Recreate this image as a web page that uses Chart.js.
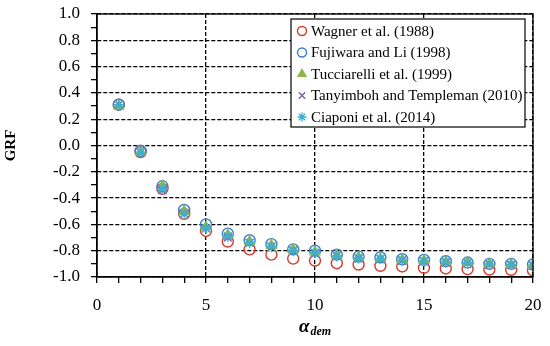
<!DOCTYPE html>
<html>
<head>
<meta charset="utf-8">
<script src="https://cdn.jsdelivr.net/npm/chart.js@4"></script>
<style>
  body { margin: 0; background: #fff; }
  #graphique { display: block; }
</style>
</head>
<body>
<canvas id="graphique" width="550" height="346"></canvas>
<script>
const alphaDem = [1, 2, 3, 4, 5, 6, 7, 8, 9, 10, 11, 12, 13, 14, 15, 16, 17, 18, 19, 20];
const wagner = [0.31, -0.05, -0.33, -0.52, -0.65, -0.73, -0.79, -0.83, -0.86, -0.875, -0.895, -0.905, -0.915, -0.92, -0.93, -0.935, -0.94, -0.943, -0.945, -0.95];
const fujiwara = [0.31, -0.04, -0.31, -0.49, -0.60, -0.67, -0.72, -0.75, -0.79, -0.80, -0.83, -0.845, -0.85, -0.865, -0.87, -0.88, -0.89, -0.90, -0.90, -0.905];
const tucciarelli = [0.30, -0.05, -0.31, -0.50, -0.62, -0.68, -0.73, -0.76, -0.79, -0.81, -0.835, -0.85, -0.86, -0.87, -0.875, -0.885, -0.89, -0.90, -0.905, -0.91];
const tanyimboh = [0.31, -0.05, -0.34, -0.52, -0.63, -0.70, -0.74, -0.77, -0.80, -0.82, -0.84, -0.86, -0.865, -0.875, -0.88, -0.89, -0.895, -0.905, -0.91, -0.915];
const ciaponi = [0.31, -0.05, -0.33, -0.52, -0.63, -0.69, -0.74, -0.77, -0.80, -0.815, -0.84, -0.855, -0.86, -0.87, -0.88, -0.885, -0.89, -0.90, -0.905, -0.91];

const seriesLabels = ["Wagner et al. (1988)", "Fujiwara and Li (1998)", "Tucciarelli et al. (1999)", "Tanyimboh and Templeman (2010)", "Ciaponi et al. (2014)"];
const xTickLabels = ["0", "5", "10", "15", "20"];

const serif = "'Liberation Serif', 'DejaVu Serif', serif";

function points(values){
    return alphaDem.map((x, i) => ({x: x, y: values[i]}));
}

const styles = [
    {pointStyle: "circle", color: "#D23C2C", fill: "rgba(0,0,0,0)"},
    {pointStyle: "circle", color: "#3A7CCB", fill: "rgba(0,0,0,0)"},
    {pointStyle: "triangle", color: "#8DB749", fill: "#8DB749"},
    {pointStyle: "crossRot", color: "#7E5FA8", fill: "#7E5FA8"},
    {pointStyle: "star", color: "#3CB2CF", fill: "#3CB2CF"}
];
const seriesData = [wagner, fujiwara, tucciarelli, tanyimboh, ciaponi];

const datasets = seriesData.map((vals, i) => ({
    label: seriesLabels[i],
    data: points(vals),
    pointStyle: styles[i].pointStyle,
    pointRadius: 5.5,
    pointBorderWidth: 1.4,
    borderColor: styles[i].color,
    backgroundColor: styles[i].fill,
    order: 4 - i
}));

// pas de marge automatique : la zone du graphique est fixée par layout.padding
function sansMarge(scale){
    scale.paddingTop = 0;
    scale.paddingBottom = 0;
    scale.paddingLeft = 0;
    scale.paddingRight = 0;
}

// cadre autour de la zone du graphique
const cadre = {
    id: "cadre",
    afterDatasetsDraw(chart){
        const a = chart.chartArea;
        const ctx = chart.ctx;
        ctx.save();
        ctx.strokeStyle = "#000";
        ctx.lineWidth = 1.3;
        ctx.strokeRect(a.left, a.top, a.right - a.left, a.bottom - a.top);
        ctx.restore();
    }
};

// légende dans la zone du graphique + titre de l'axe x
const legendeEtTitre = {
    id: "legendeEtTitre",
    afterDraw(chart){
        const ctx = chart.ctx;
        ctx.save();
        const bx = 291, by = 19, bw = 234, bh = 108;
        ctx.fillStyle = "#fff";
        ctx.fillRect(bx, by, bw, bh);
        ctx.strokeStyle = "#000";
        ctx.lineWidth = 1.2;
        ctx.strokeRect(bx, by, bw, bh);
        for(let i = 0; i < seriesLabels.length; i++){
            const y = 31 + i * 21.5;
            ctx.strokeStyle = styles[i].color;
            ctx.fillStyle = styles[i].fill;
            ctx.lineWidth = 1.4;
            Chart.helpers.drawPoint(ctx, {pointStyle: styles[i].pointStyle, radius: 4.5, rotation: 0, borderWidth: 1.4}, 302, y);
            ctx.fillStyle = "#000";
            ctx.font = "15px " + serif;
            ctx.textBaseline = "middle";
            ctx.textAlign = "left";
            ctx.fillText(seriesLabels[i], 311, y + 1);
        }
        // alpha_dem
        const a = chart.chartArea;
        const cx = (a.left + a.right) / 2;
        ctx.fillStyle = "#000";
        ctx.textBaseline = "alphabetic";
        ctx.font = "bold italic 19px " + serif;
        const wA = ctx.measureText("α").width;
        ctx.font = "bold italic 12px " + serif;
        const wD = ctx.measureText("dem").width;
        const x0 = cx - (wA + wD + 1) / 2;
        ctx.font = "bold italic 19px " + serif;
        ctx.fillText("α", x0, 332);
        ctx.font = "bold italic 12px " + serif;
        ctx.fillText("dem", x0 + wA + 1, 335);
        ctx.restore();
    }
};

new Chart(document.querySelector("#graphique"), {
    type: "scatter",
    data: {datasets: datasets},
    options: {
        responsive: false,
        animation: false,
        devicePixelRatio: 1,
        layout: {padding: {left: 0, right: 17, top: 14, bottom: 0}},
        plugins: {legend: {display: false}, tooltip: {enabled: false}},
        scales: {
            x: {
                type: "linear",
                min: 0,
                max: 20,
                afterFit(scale){ scale.height = 69; sansMarge(scale); },
                ticks: {
                    stepSize: 1,
                    autoSkip: false,
                    maxRotation: 0,
                    padding: 12,
                    color: "#000",
                    font: {family: serif, size: 17},
                    callback: (v) => v % 5 === 0 ? xTickLabels[v / 5] : ""
                },
                grid: {
                    color: (c) => (c.tick && c.tick.value % 5 === 0) ? "#000" : "rgba(0,0,0,0)",
                    tickColor: "#000",
                    tickLength: 6,
                    lineWidth: 1.3
                },
                border: {color: "#000", width: 1.3, dash: [4, 2]}
            },
            y: {
                min: -1,
                max: 1,
                afterFit(scale){ scale.width = 97; sansMarge(scale); },
                title: {
                    display: true,
                    text: "GRF",
                    color: "#000",
                    font: {family: serif, size: 15, weight: "bold"},
                    padding: {top: 2, bottom: 0}
                },
                ticks: {
                    stepSize: 0.1,
                    autoSkip: false,
                    padding: 11,
                    color: "#000",
                    font: {family: serif, size: 17},
                    callback: (v) => Math.round(v * 10) % 2 === 0 ? (Math.round(v * 10) / 10).toFixed(1) : ""
                },
                grid: {
                    color: (c) => (c.tick && Math.round(c.tick.value * 10) % 2 === 0) ? "#000" : "rgba(0,0,0,0)",
                    tickColor: "#000",
                    tickLength: 6,
                    lineWidth: 1.3
                },
                border: {color: "#000", width: 1.3, dash: [4, 2]}
            }
        }
    },
    plugins: [cadre, legendeEtTitre]
});
</script>
</body>
</html>
